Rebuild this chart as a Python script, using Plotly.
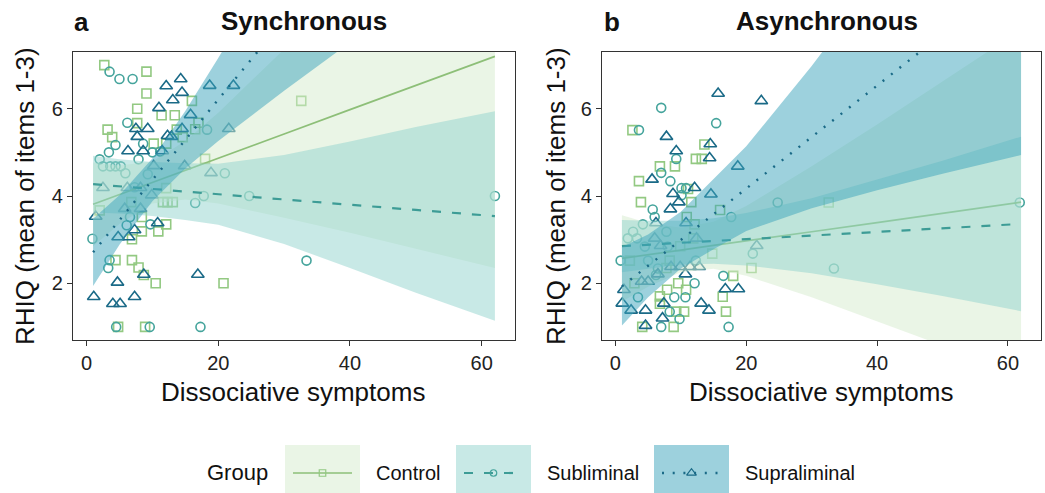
import plotly.graph_objects as go

W, H = 1045, 493
FONT = "Liberation Sans, Arial, sans-serif"

# ---------------- data ----------------
groups = ["Control", "Subliminal", "Supraliminal"]
panel_titles = ["Synchronous", "Asynchronous"]
panel_tags = ["a", "b"]
x_ticks = [0, 20, 40, 60]
y_ticks = [2, 4, 6]

# Synchronous (a)
sync_control_x = [2.7, 9.1, 9.1, 16.0, 7.7, 11.4, 13.4, 7.7, 3.2, 16.5, 17.0, 13.7, 3.9, 14.6, 10.2, 12.1, 32.6, 18.0,
                  12.1, 2.0, 11.6, 12.3, 13.1, 6.8, 8.4, 12.1, 10.9, 8.4, 6.9, 4.4, 6.9, 7.9, 8.7, 10.5, 20.8, 4.8, 8.9]
sync_control_y = [7.0, 6.85, 6.35, 6.18, 6.0, 5.85, 5.85, 5.67, 5.52, 5.53, 5.68, 5.52, 5.35, 5.35, 5.2, 5.2, 6.18, 4.85,
                  4.18, 3.67, 3.86, 3.86, 3.86, 3.86, 3.52, 3.35, 3.19, 3.19, 3.01, 2.53, 2.53, 2.36, 2.19, 2.0, 2.0, 1.0, 1.0]
sync_sub_x = [3.5, 5.0, 7.0, 6.2, 18.3, 4.4, 3.4, 2.0, 7.9, 2.5, 3.6, 4.4, 5.2, 5.9, 21.0, 10.0, 11.2, 8.6, 17.8, 24.7,
              16.5, 0.9, 3.5, 3.3, 6.6, 6.1, 9.7, 62.0, 33.4, 17.3, 4.5, 9.6, 7.3, 9.3]
sync_sub_y = [6.85, 6.68, 6.68, 5.68, 5.52, 5.17, 5.0, 4.84, 4.84, 4.68, 4.68, 4.68, 4.68, 4.52, 4.52, 5.0, 5.02, 5.2, 4.0, 4.0,
              3.84, 3.02, 2.53, 2.35, 3.52, 3.33, 3.35, 4.0, 2.52, 1.0, 1.0, 1.0, 4.2, 4.5]
sync_supra_x = [14.3, 12.1, 14.5, 18.7, 22.3, 13.1, 11.0, 15.8, 7.5, 9.3, 7.7, 14.5, 21.6, 12.3, 12.9, 6.3, 8.6, 11.5, 10.2,
                14.9, 18.9, 2.5, 6.2, 8.2, 9.9, 8.2, 5.8, 1.4, 10.8, 4.8, 6.4, 7.3, 4.7, 8.7, 16.9, 1.1, 7.3, 4.0, 5.1]
sync_supra_y = [6.68, 6.52, 6.37, 6.53, 6.53, 6.2, 6.02, 5.86, 5.54, 5.54, 5.36, 5.54, 5.54, 5.38, 5.36, 5.03, 5.03, 5.03, 4.69,
                4.69, 4.53, 4.19, 4.19, 4.19, 4.02, 3.71, 3.71, 3.53, 3.38, 3.06, 3.06, 3.22, 2.02, 2.2, 2.2, 1.69, 1.69, 1.53, 1.53]

# Asynchronous (b)
async_control_x = [2.6, 13.6, 12.3, 13.2, 6.8, 9.1, 3.6, 3.9, 11.6, 16.0, 32.6, 11.1, 10.9, 12.1, 14.8, 2.2, 20.8, 2.9, 9.6,
                   10.8, 6.8, 7.9, 6.8, 16.4, 16.9, 9.3, 10.5, 4.1, 8.9, 18.0, 11.9, 8.3, 7.8, 9.9]
async_control_y = [5.51, 5.18, 4.85, 4.85, 4.68, 4.68, 4.34, 3.86, 3.86, 3.68, 3.85, 4.16, 3.52, 3.35, 2.68, 2.52, 2.35, 2.0, 2.0,
                   1.85, 1.7, 1.85, 1.53, 1.69, 1.35, 1.35, 1.35, 1.0, 1.0, 2.17, 3.03, 2.52, 2.35, 2.85]
async_sub_x = [7.0, 15.4, 3.6, 7.0, 9.3, 8.4, 10.1, 10.8, 10.1, 5.7, 6.0, 4.2, 24.8, 17.7, 7.8, 2.7, 1.9, 3.3, 0.8, 5.0, 12.3,
               21.0, 33.4, 61.8, 6.5, 6.2, 12.1, 3.45, 9.0, 10.7, 16.5, 8.3, 7.0, 17.3, 9.8, 8.0, 4.5]
async_sub_y = [6.02, 5.67, 5.51, 4.53, 4.85, 4.34, 4.18, 4.18, 4.02, 3.69, 3.52, 3.35, 3.85, 3.52, 3.18, 3.18, 3.03, 3.03, 2.52,
               2.52, 2.52, 2.68, 2.34, 3.85, 2.34, 2.19, 2.0, 1.68, 1.68, 1.68, 2.17, 1.35, 1.0, 1.0, 1.18, 2.84, 2.84]
async_supra_x = [15.7, 22.3, 7.8, 9.3, 14.5, 14.4, 18.7, 5.6, 8.8, 9.7, 8.4, 12.1, 14.6, 6.2, 10.8, 6.0, 6.9, 12.4, 21.6, 8.5,
                 9.9, 11.4, 12.8, 10.7, 6.5, 4.0, 5.0, 1.3, 16.8, 18.8, 1.05, 2.4, 4.6, 7.4, 13.1, 14.3, 7.2, 4.6]
async_supra_y = [6.35, 6.18, 5.36, 5.03, 5.19, 4.87, 4.68, 4.38, 4.05, 3.86, 3.7, 4.19, 4.04, 3.38, 3.38, 3.03, 2.86, 3.03, 2.86,
                 2.38, 2.38, 2.38, 2.38, 2.21, 2.21, 2.04, 2.04, 1.85, 1.87, 1.87, 1.54, 1.38, 1.38, 1.54, 1.54, 1.38, 1.2, 1.03]

# fitted lines and 95% bands, read at these x values
fit_x = [1, 5, 10, 15, 20, 30, 40, 50, 62]
sync_control_fit = [3.81, 4.03, 4.31, 4.59, 4.87, 5.42, 5.98, 6.53, 7.20]
sync_control_lo = [2.85, 3.36, 3.83, 3.92, 3.83, 3.50, 3.16, 2.79, 2.35]
sync_control_hi = [4.77, 4.70, 4.79, 5.26, 5.91, 7.34, 8.80, 10.27, 12.05]
sync_sub_fit = [4.27, 4.22, 4.16, 4.10, 4.04, 3.92, 3.80, 3.68, 3.54]
sync_sub_lo = [3.62, 3.60, 3.54, 3.45, 3.34, 2.90, 2.35, 1.78, 1.14]
sync_sub_hi = [4.92, 4.84, 4.78, 4.75, 4.74, 4.94, 5.25, 5.58, 5.94]
sync_supra_fit = [2.71, 3.45, 4.37, 5.29, 6.21, 8.05, 9.89, 11.73, 13.93]
sync_supra_lo = [1.94, 2.88, 3.88, 4.63, 5.26, 6.41, 7.52, 8.63, 9.94]
sync_supra_hi = [3.48, 4.02, 4.86, 5.95, 7.16, 9.69, 12.26, 14.83, 17.92]

async_control_fit = [2.57, 2.65, 2.76, 2.87, 2.97, 3.18, 3.39, 3.60, 3.86]
async_control_lo = [1.58, 1.92, 2.25, 2.33, 2.17, 1.68, 1.14, 0.58, -0.09]
async_control_hi = [3.56, 3.38, 3.27, 3.41, 3.77, 4.68, 5.64, 6.62, 7.81]
async_sub_fit = [2.85, 2.88, 2.93, 2.97, 3.01, 3.09, 3.18, 3.26, 3.36]
async_sub_lo = [2.25, 2.33, 2.43, 2.45, 2.41, 2.23, 1.98, 1.71, 1.36]
async_sub_hi = [3.45, 3.43, 3.43, 3.49, 3.61, 3.95, 4.38, 4.81, 5.36]
async_supra_fit = [1.93, 2.40, 2.99, 3.58, 4.17, 5.35, 6.53, 7.71, 9.13]
async_supra_lo = [1.03, 1.68, 2.34, 2.78, 3.20, 3.72, 4.13, 4.51, 4.94]
async_supra_hi = [2.83, 3.12, 3.64, 4.38, 5.14, 6.98, 8.93, 10.91, 13.32]

# ---------------- styles ----------------
line_col = {"Control": "#8dbf78", "Subliminal": "#3d9c96", "Supraliminal": "#1a6a87"}
mark_col = {"Control": "#93c982", "Subliminal": "#45a49c", "Supraliminal": "#1a6a87"}
fill_col = {"Control": "rgba(213,235,205,0.5)", "Subliminal": "rgba(145,211,205,0.5)",
            "Supraliminal": "rgba(59,163,187,0.5)"}
symbol = {"Control": "square-open", "Subliminal": "circle-open", "Supraliminal": "triangle-up-open"}
msize = {"Control": 9, "Subliminal": 9, "Supraliminal": 11}
dash = {"Control": "solid", "Subliminal": "9px,11px", "Supraliminal": "2px,8.7px"}
lwidth = {"Control": 1.7, "Subliminal": 2.2, "Supraliminal": 2.4}

panels = [
    {"xa": "x", "ya": "y",
     "pts": {"Control": (sync_control_x, sync_control_y), "Subliminal": (sync_sub_x, sync_sub_y),
             "Supraliminal": (sync_supra_x, sync_supra_y)},
     "fit": {"Control": (sync_control_fit, sync_control_lo, sync_control_hi),
             "Subliminal": (sync_sub_fit, sync_sub_lo, sync_sub_hi),
             "Supraliminal": (sync_supra_fit, sync_supra_lo, sync_supra_hi)}},
    {"xa": "x2", "ya": "y2",
     "pts": {"Control": (async_control_x, async_control_y), "Subliminal": (async_sub_x, async_sub_y),
             "Supraliminal": (async_supra_x, async_supra_y)},
     "fit": {"Control": (async_control_fit, async_control_lo, async_control_hi),
             "Subliminal": (async_sub_fit, async_sub_lo, async_sub_hi),
             "Supraliminal": (async_supra_fit, async_supra_lo, async_supra_hi)}},
]

fig = go.Figure()

for p in panels:
    for g in groups:
        xs, ys = p["pts"][g]
        fig.add_trace(go.Scatter(x=xs, y=ys, mode="markers", xaxis=p["xa"], yaxis=p["ya"],
                                 marker=dict(symbol=symbol[g], size=msize[g], color=mark_col[g],
                                             line=dict(width=1.6, color=mark_col[g])),
                                 showlegend=False, hoverinfo="skip"))
    for g in groups:
        fit, lo, hi = p["fit"][g]
        fig.add_trace(go.Scatter(x=fit_x + fit_x[::-1], y=hi + lo[::-1], mode="lines", fill="toself",
                                 fillcolor=fill_col[g], line=dict(width=0), xaxis=p["xa"], yaxis=p["ya"],
                                 showlegend=False, hoverinfo="skip"))
        fig.add_trace(go.Scatter(x=fit_x, y=fit, mode="lines", xaxis=p["xa"], yaxis=p["ya"],
                                 line=dict(color=line_col[g], width=lwidth[g], dash=dash[g]),
                                 showlegend=False, hoverinfo="skip"))


def fx(px):
    return px / W


def fy(py):
    return 1 - py / H


axis_common = dict(showgrid=False, zeroline=False, showline=True, mirror=True, linecolor="#333333",
                   linewidth=1.3, ticks="outside", ticklen=5, tickwidth=1.3, tickcolor="#333333",
                   tickfont=dict(family=FONT, size=20, color="#222222"))
fig.update_layout(
    width=W, height=H, margin=dict(l=0, r=0, t=0, b=0),
    paper_bgcolor="white", plot_bgcolor="rgba(0,0,0,0)", showlegend=False,
    xaxis=dict(domain=[fx(73), fx(515)], range=[-2.05, 65.05], tickvals=x_ticks, anchor="y", **axis_common),
    yaxis=dict(domain=[fy(340), fy(52)], range=[0.7, 7.3], tickvals=y_ticks, anchor="x", **axis_common),
    xaxis2=dict(domain=[fx(602), fx(1041)], range=[-2.05, 65.05], tickvals=x_ticks, anchor="y2", **axis_common),
    yaxis2=dict(domain=[fy(340), fy(52)], range=[0.7, 7.3], tickvals=y_ticks, anchor="x2", **axis_common),
    xaxis3=dict(domain=[0, 1], range=[0, W], visible=False, anchor="y3"),
    yaxis3=dict(domain=[0, 1], range=[H, 0], visible=False, anchor="x3"),
)

ann = []
# panel titles and tags
for tag, title, tagx, cx, ax_cx in [("a", "Synchronous", 72, 304, 293), ("b", "Asynchronous", 602, 827, 821)]:
    ann.append(dict(text=f"<b>{tag}</b>", x=fx(tagx), y=fy(22), xanchor="left", yanchor="middle",
                    font=dict(family=FONT, size=26, color="#111111")))
    ann.append(dict(text=f"<b>{title}</b>", x=fx(cx), y=fy(21), xanchor="center", yanchor="middle",
                    font=dict(family=FONT, size=26, color="#111111")))
    ann.append(dict(text="Dissociative symptoms", x=fx(ax_cx), y=fy(392), xanchor="center", yanchor="middle",
                    font=dict(family=FONT, size=26, color="#111111")))
for yx in [25, 556]:
    ann.append(dict(text="RHIQ (mean of items 1-3)", x=fx(yx), y=fy(196), textangle=-90, xanchor="center",
                    yanchor="middle", font=dict(family=FONT, size=26, color="#111111")))

# legend (drawn manually on overlay axes in pixel units)
ann.append(dict(text="Group", x=fx(270), y=fy(472), xanchor="right", yanchor="middle",
                font=dict(family=FONT, size=22, color="#111111")))
keys = [("Control", 285, 360), ("Subliminal", 456, 531), ("Supraliminal", 654, 729)]
shapes = []
for g, k0, k1 in keys:
    shapes.append(dict(type="rect", xref="x3", yref="y3", x0=k0, x1=k1, y0=445, y1=505, layer="below",
                       line=dict(width=0), fillcolor=fill_col[g]))
    fig.add_trace(go.Scatter(x=[k0 + 8, k1 - 8], y=[473, 473], mode="lines", xaxis="x3", yaxis="y3",
                             line=dict(color=line_col[g], width=lwidth[g], dash=dash[g]),
                             showlegend=False, hoverinfo="skip"))
    fig.add_trace(go.Scatter(x=[(k0 + k1) / 2], y=[473], mode="markers", xaxis="x3", yaxis="y3",
                             marker=dict(symbol=symbol[g], size=msize[g] - 2.5, color=mark_col[g],
                                         line=dict(width=1.2, color=mark_col[g])),
                             showlegend=False, hoverinfo="skip"))
    ann.append(dict(text=g, x=fx(k1 + 14), y=fy(473), xanchor="left", yanchor="middle",
                    font=dict(family=FONT, size=20, color="#111111")))

for a in ann:
    a.update(xref="paper", yref="paper", showarrow=False)
fig.update_layout(annotations=ann, shapes=shapes)

fig.write_html("out.html")
